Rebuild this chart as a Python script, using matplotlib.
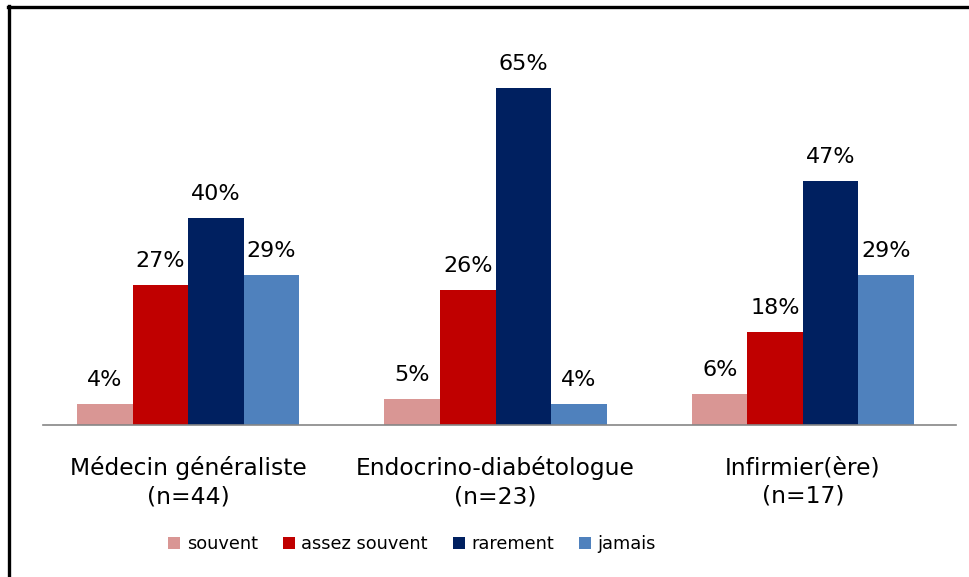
import numpy as np
import matplotlib.pyplot as plt
from matplotlib.lines import Line2D

categories = ['Médecin généraliste\n(n=44)', 'Endocrino-diabétologue\n(n=23)', 'Infirmier(ère)\n(n=17)']
series = ['souvent', 'assez souvent', 'rarement', 'jamais']
values = {
    'souvent': [4, 5, 6],
    'assez souvent': [27, 26, 18],
    'rarement': [40, 65, 47],
    'jamais': [29, 4, 29],
}
colors = ['#D99694', '#C00000', '#002060', '#4F81BD']

plt.rcParams['font.family'] = 'DejaVu Sans'

fig = plt.figure(figsize=(9.70, 5.77), dpi=100)
ax = fig.add_axes([43 / 970, (577 - 425) / 577, 913 / 970, (425 - 62) / 577])

x = np.arange(len(categories))
w = 0.1805
for i, (name, col) in enumerate(zip(series, colors)):
    pos = x + (i - 1.5) * w
    bars = ax.bar(pos, values[name], width=w, color=col, label=name)
    for b, v in zip(bars, values[name]):
        ax.annotate(f'{v}%', (b.get_x() + b.get_width() / 2, v), xytext=(0, 10),
                    textcoords='offset points', ha='center', va='bottom', fontsize=16)

ax.set_xlim(-0.4716, 2.4976)
ax.set_ylim(0, 70)
ax.set_xticks(x)
ax.set_xticklabels(categories, fontsize=16.8, linespacing=1.3)
ax.tick_params(axis='x', length=0, pad=22.5)
ax.set_yticks([])
for s in ['top', 'right', 'left']:
    ax.spines[s].set_visible(False)
ax.spines['bottom'].set_color('#868686')
ax.spines['bottom'].set_linewidth(1.2)

leg = fig.legend(loc='center', bbox_to_anchor=(412 / 970, 1 - 544 / 577), ncol=4, frameon=False,
                 fontsize=12.8, handlelength=0.7, handleheight=0.7, handletextpad=0.35,
                 columnspacing=1.4)

# frame around chart (only top and left visible)
fig.add_artist(Line2D([9.5 / 970, 9.5 / 970], [0, 1 - 6 / 577], color='black', lw=2.4, transform=fig.transFigure))
fig.add_artist(Line2D([8.5 / 970, 1], [1 - 7 / 577, 1 - 7 / 577], color='black', lw=2.4, transform=fig.transFigure))

fig.savefig('out.png', dpi=100)
